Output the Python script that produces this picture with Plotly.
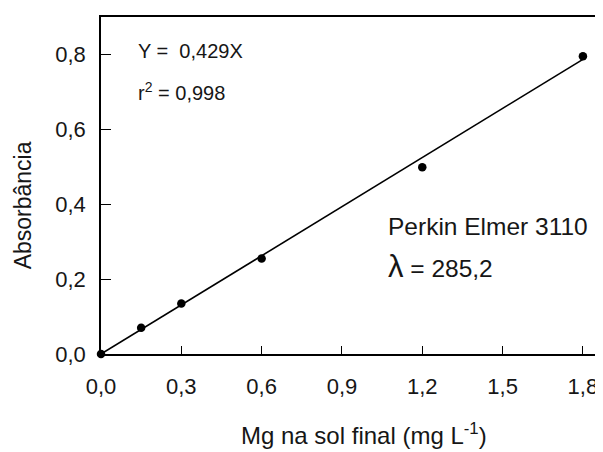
import plotly.graph_objects as go

# Data
mg_conc = [0.0, 0.15, 0.3, 0.6, 1.2, 1.8]
absorb = [0.0, 0.070, 0.135, 0.255, 0.499, 0.795]
fit_x = [0.0, 1.8]
fit_y = [0.0, 0.787]

x_ticks = [0.0, 0.3, 0.6, 0.9, 1.2, 1.5, 1.8]
x_tick_labels = ["0,0", "0,3", "0,6", "0,9", "1,2", "1,5", "1,8"]
y_ticks = [0.0, 0.2, 0.4, 0.6, 0.8]
y_tick_labels = ["0,0", "0,2", "0,4", "0,6", "0,8"]

FONT = "Liberation Sans, Arial, sans-serif"
INK = "#161616"

fig = go.Figure()
fig.add_trace(go.Scatter(x=fit_x, y=fit_y, mode="lines",
                         line=dict(color="black", width=1.6),
                         showlegend=False, hoverinfo="skip"))
fig.add_trace(go.Scatter(x=mg_conc, y=absorb, mode="markers",
                         marker=dict(color="black", size=8.5),
                         showlegend=False, cliponaxis=False))

# page body has an 8px margin: figure offset compensated in the margins
fig.update_layout(
    width=595, height=444,
    margin=dict(l=93, r=0, t=9, b=98),
    paper_bgcolor="white", plot_bgcolor="white",
    font=dict(family=FONT, size=22, color=INK),
    xaxis=dict(range=[0, 1.875], tickvals=x_ticks, ticktext=x_tick_labels,
               ticks="inside", ticklen=8, tickcolor="black", tickwidth=1.3,
               showline=True, linecolor="black", linewidth=1.5, mirror=True,
               showgrid=False, zeroline=False, automargin=False,
               ticklabelstandoff=12,
               tickfont=dict(family=FONT, size=22, color=INK)),
    yaxis=dict(range=[0, 0.9], tickvals=y_ticks, ticktext=y_tick_labels,
               ticks="inside", ticklen=10, tickcolor="black", tickwidth=1.3,
               showline=True, linecolor="black", linewidth=1.5,
               showgrid=False, zeroline=False, automargin=False,
               ticklabelstandoff=9,
               tickfont=dict(family=FONT, size=22, color=INK)),
)

# axis titles
fig.add_annotation(x=0.984, y=0, xref="x", yref="paper", yanchor="middle",
                   yshift=-80, text="Mg na sol final (mg L<sup>-1</sup>)",
                   showarrow=False, font=dict(family=FONT, size=24, color=INK))
fig.add_annotation(x=0, y=0.397, xref="paper", yref="y", xanchor="center",
                   xshift=-78, textangle=-90, text="Absorbância",
                   showarrow=False, font=dict(family=FONT, size=23, color=INK))

# in-plot texts
fig.add_annotation(x=0.13, y=0.809, xref="x", yref="y", xanchor="left",
                   text="Y =  0,429X", showarrow=False,
                   font=dict(family=FONT, size=20, color=INK))
fig.add_annotation(x=0.13, y=0.70, xref="x", yref="y", xanchor="left",
                   text="r<sup>2</sup> = 0,998", showarrow=False,
                   font=dict(family=FONT, size=20, color=INK))
fig.add_annotation(x=1.066, y=0.341, xref="x", yref="y", xanchor="left",
                   text="Perkin Elmer 3110", showarrow=False,
                   font=dict(family=FONT, size=24.5, color=INK))
fig.add_annotation(x=1.066, y=0.235, xref="x", yref="y", xanchor="left",
                   text="<span style='font-size:31px'>λ</span> = 285,2", showarrow=False,
                   font=dict(family=FONT, size=24.5, color=INK))

fig.write_html("out.html")
